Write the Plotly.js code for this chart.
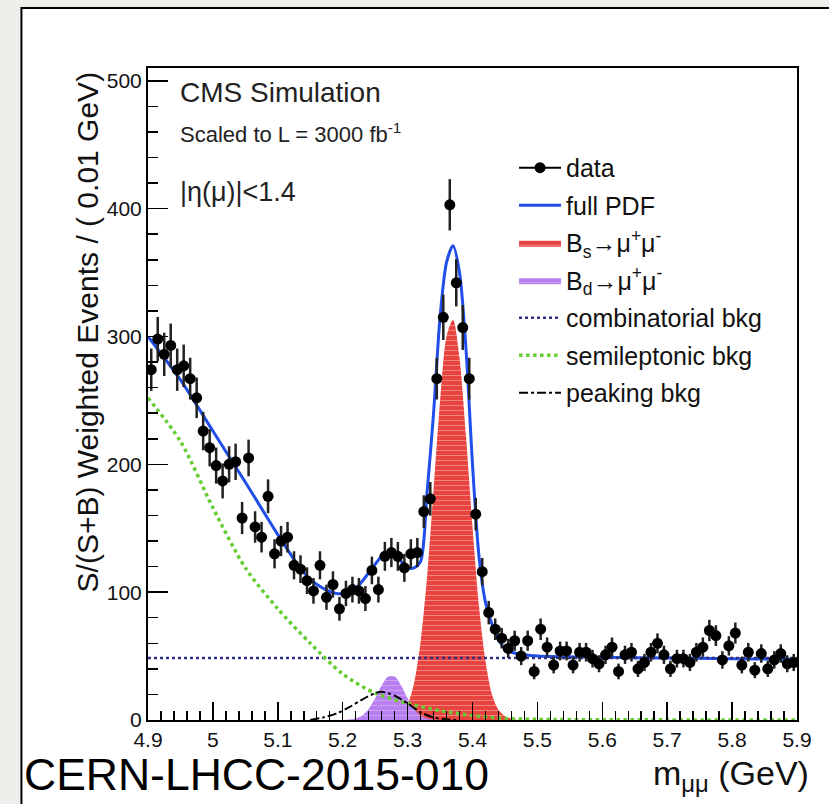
<!DOCTYPE html>
<html>
<head>
<meta charset="utf-8">
<script src="https://cdn.plot.ly/plotly-3.0.1.min.js"></script>
<style>html,body{margin:0;padding:0;background:#eeeeea;}#chart{width:829px;height:804px;}</style>
</head>
<body>
<div id="chart"></div>
<script>
// ---- data ----
const binCenters = [4.905,4.915,4.925,4.935,4.945,4.955,4.965,4.975,4.985,4.995,
5.005,5.015,5.025,5.035,5.045,5.055,5.065,5.075,5.085,5.095,
5.105,5.115,5.125,5.135,5.145,5.155,5.165,5.175,5.185,5.195,
5.205,5.215,5.225,5.235,5.245,5.255,5.265,5.275,5.285,5.295,
5.305,5.315,5.325,5.335,5.345,5.355,5.365,5.375,5.385,5.395,
5.405,5.415,5.425,5.435,5.445,5.455,5.465,5.475,5.485,5.495,
5.505,5.515,5.525,5.535,5.545,5.555,5.565,5.575,5.585,5.595,
5.605,5.615,5.625,5.635,5.645,5.655,5.665,5.675,5.685,5.695,
5.705,5.715,5.725,5.735,5.745,5.755,5.765,5.775,5.785,5.795,
5.805,5.815,5.825,5.835,5.845,5.855,5.865,5.875,5.885,5.895];
const dataCounts = [274,298,286,293,274,277,267,252,226,213,
199,187,200,202,158,205,151,143,175,130,
140,143,121,118,109,101,121,96,106,87,
99,102,101,95,117,102,128,131,128,119,
130,131,163,173,267,315,403,342,307,267,
161,116,84,71,64,56,62,50,62,38,
71,57,43,54,54,43,53,53,48,44,
51,57,38,51,53,40,45,53,60,51,
40,48,48,45,53,57,70,66,47,58,
68,43,53,39,52,40,47,52,44,45];

const pdfX = [4.90,4.95,5.00,5.05,5.10,5.13,5.15,5.17,5.19,5.20,5.22,5.24,5.26,5.27,5.28,5.29,5.30,5.31,5.32,5.33,5.34,5.35,5.36,5.37,5.38,5.39,5.40,5.41,5.42,5.43,5.44,5.45,5.46,5.48,5.50,5.60,5.70,5.80,5.90];
const pdfY = [300,266,226,186,145,122,110,103,99,99,103,115,128,131,129,124,119,119,124,178,240,315,358,371,350,290,200,128,92,75,63,56,53,51,50,49,48.5,48,47.5];

const bsX = [5.27,5.28,5.29,5.30,5.31,5.32,5.33,5.34,5.35,5.36,5.37,5.38,5.39,5.40,5.41,5.42,5.43,5.44,5.45,5.46,5.47];
const bsY = [0,1,4,12,29,61,112,180,249,300,313,283,222,151,89,46,20,8,3,1,0];

const bdX = [5.20,5.21,5.22,5.23,5.24,5.25,5.26,5.27,5.28,5.29,5.30,5.31,5.32,5.33,5.34,5.35];
const bdY = [0,0.3,1.1,3.5,8.7,17,27,34,34,27,17,8.7,3.5,1.1,0.3,0];

const combX = [4.90,5.90];
const combY = [48.5,48.5];

const semiX = [4.90,4.95,5.00,5.05,5.10,5.15,5.20,5.25,5.30,5.35,5.40,5.45,5.50,5.60,5.70,5.90];
const semiY = [252,218,166,119,87,60,36,21,13,7.3,3.5,1.2,0.5,0.2,0.1,0];

const peakX = [5.15,5.17,5.19,5.21,5.23,5.25,5.26,5.27,5.28,5.30,5.32,5.34,5.36,5.38];
const peakY = [0,2,5,10,16,21,22,21,19,13,6,2,0.5,0];

const yTicks = [0,100,200,300,400,500];

// ---- styling ----
const FONT = 'Liberation Sans, Arial, Helvetica, sans-serif';

const traces = [
  {x:[null], y:[null], type:'scatter', mode:'lines+markers', name:'data',
   line:{color:'black', width:2}, marker:{color:'black', size:11}, legendgroup:'g1'},
  {x:pdfX, y:pdfY, type:'scatter', mode:'lines', name:'full PDF',
   line:{color:'#1f4fe8', width:3, shape:'spline', smoothing:0.8}, legendgroup:'g2'},
  {x:bsX, y:bsY, type:'scatter', mode:'lines', name:'B<sub>s</sub>→μ<sup>+</sup>μ<sup>-</sup>',
   fill:'tozeroy', line:{color:'#e8433e', width:0, shape:'spline', smoothing:0.8},
   fillcolor:'#e8433e',
   fillpattern:{shape:'-', bgcolor:'#e8433e', fgcolor:'rgba(255,255,255,0.45)', size:5, solidity:0.15},
   legendgroup:'g3'},
  {x:bdX, y:bdY, type:'scatter', mode:'lines', name:'B<sub>d</sub>→μ<sup>+</sup>μ<sup>-</sup>',
   fill:'tozeroy', line:{color:'#b77ff0', width:0, shape:'spline', smoothing:0.8},
   fillcolor:'#b77ff0',
   fillpattern:{shape:'-', bgcolor:'#b77ff0', fgcolor:'rgba(255,255,255,0.35)', size:5, solidity:0.15},
   legendgroup:'g4'},
  {x:combX, y:combY, type:'scatter', mode:'lines', name:'combinatorial bkg',
   line:{color:'#303080', width:2.5, dash:'dot'}, legendgroup:'g5'},
  {x:semiX, y:semiY, type:'scatter', mode:'lines', name:'semileptonic bkg',
   line:{color:'#66cc33', width:3.5, dash:'dot', shape:'spline', smoothing:0.8}, legendgroup:'g6'},
  {x:peakX, y:peakY, type:'scatter', mode:'lines', name:'peaking bkg',
   line:{color:'black', width:2, dash:'dashdot', shape:'spline', smoothing:0.8}, legendgroup:'g7'},
  {x:binCenters, y:dataCounts, type:'scatter', mode:'markers', name:'data', showlegend:false,
   marker:{color:'black', size:11},
   error_y:{type:'sqrt', color:'#222', thickness:2.5, width:0},
   error_x:{type:'constant', value:0.005, color:'#222', thickness:2, width:0}}
];

const layout = {
  width:829, height:804,
  margin:{l:148, r:32, t:68, b:84},
  paper_bgcolor:'#eeeeea',
  plot_bgcolor:'white',
  font:{family:FONT, color:'#111'},
  showlegend:true,
  legend:{x:0.564, y:0.882, xanchor:'left', yanchor:'top', bgcolor:'rgba(0,0,0,0)',
          font:{family:FONT, size:25, color:'#111'}, tracegroupgap:2, itemwidth:42, traceorder:'grouped'},
  xaxis:{range:[4.9,5.9], dtick:0.1, tick0:4.9, ticks:'inside', ticklen:18, tickwidth:1.5, tickcolor:'black',
         showline:true, linecolor:'black', linewidth:2, mirror:true, showgrid:false, zeroline:false,
         tickfont:{family:FONT, size:21, color:'#111'},
         minor:{dtick:0.02, ticks:'inside', ticklen:9, tickwidth:1.5, tickcolor:'black', showgrid:false}},
  yaxis:{range:[0,510], tickvals:yTicks, ticks:'inside', ticklen:20, tickwidth:1.5, tickcolor:'black',
         showline:true, linecolor:'black', linewidth:2, mirror:true, showgrid:false, zeroline:false,
         tickfont:{family:FONT, size:21, color:'#111'},
         minor:{dtick:20, ticks:'inside', ticklen:10, tickwidth:1.5, tickcolor:'black', showgrid:false}},
  shapes:[{type:'rect', xref:'paper', yref:'paper', x0:-0.195, x1:1.2, y0:-0.3, y1:1.092,
           fillcolor:'white', line:{color:'black', width:2}, layer:'below'}],
  annotations:[
    {xref:'paper', yref:'paper', x:-0.094, y:0.596, xanchor:'center', yanchor:'middle', showarrow:false,
     textangle:-90, text:'S/(S+B) Weighted Events / ( 0.01 GeV)', font:{family:FONT, size:30, color:'#111'}},
    {xref:'paper', yref:'paper', x:0.046, y:0.962, xanchor:'left', yanchor:'middle', showarrow:false,
     text:'CMS Simulation', font:{family:FONT, size:28, color:'#222'}},
    {xref:'paper', yref:'paper', x:0.046, y:0.900, xanchor:'left', yanchor:'middle', showarrow:false,
     text:'Scaled to L = 3000 fb<sup>-1</sup>', font:{family:FONT, size:22, color:'#222'}},
    {xref:'paper', yref:'paper', x:0.046, y:0.810, xanchor:'left', yanchor:'middle', showarrow:false,
     text:'|η(μ)|<1.4', font:{family:FONT, size:27, color:'#222'}},
    {xref:'paper', yref:'paper', x:1.022, y:-0.085, xanchor:'right', yanchor:'middle', showarrow:false,
     text:'m<sub>μμ</sub> (GeV)', font:{family:FONT, size:34, color:'#111'}},
    {xref:'paper', yref:'paper', x:-0.194, y:-0.083, xanchor:'left', yanchor:'middle', showarrow:false,
     text:'CERN-LHCC-2015-010', font:{family:FONT, size:44.5, color:'#000'}}
  ]
};

Plotly.newPlot('chart', traces, layout, {displayModeBar:false, staticPlot:true});
</script>
</body>
</html>
